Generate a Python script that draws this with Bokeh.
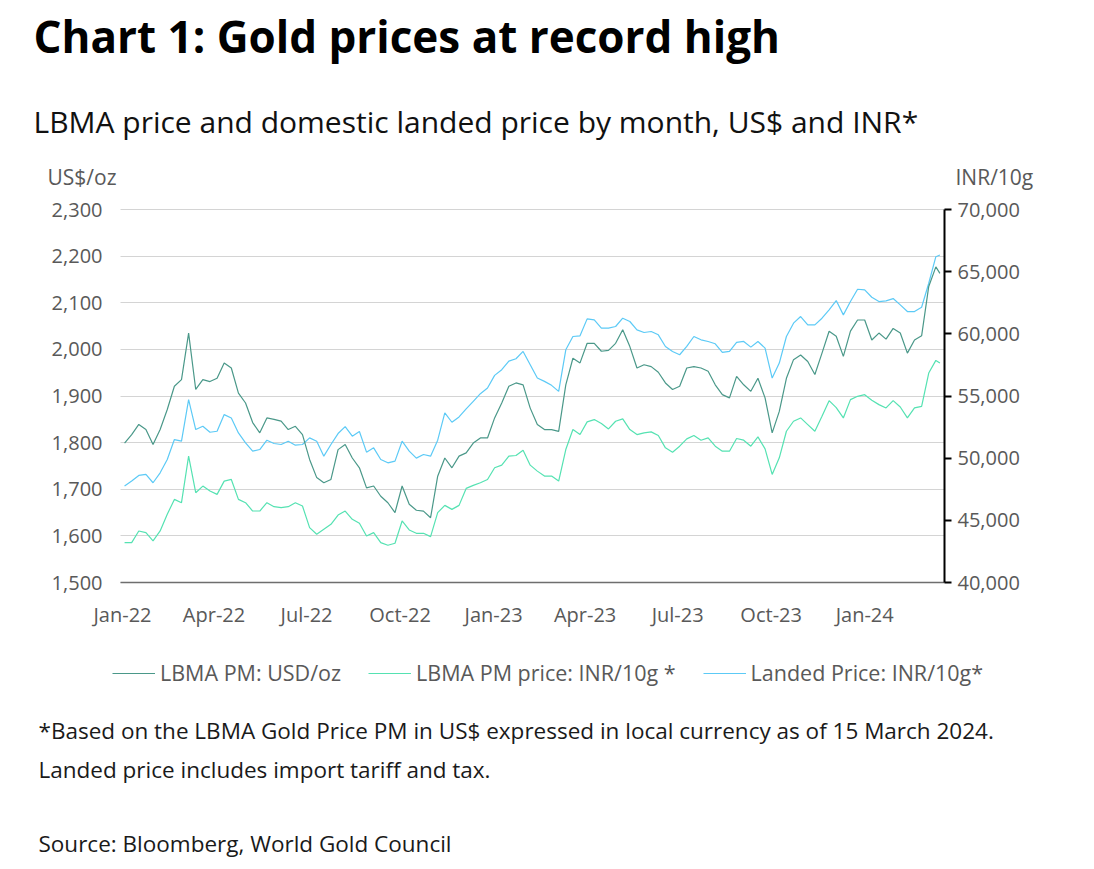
import pandas as pd
from bokeh.plotting import figure
from bokeh.models import (ColumnDataSource, LinearAxis, Range1d, FixedTicker,
                          NumeralTickFormatter, DatetimeTickFormatter, Label,
                          Legend, LegendItem)
from bokeh.embed import file_html
from bokeh.resources import INLINE

# ---------------- data (weekly readings from the chart) ----------------
week_start = "2022-01-03"
n_weeks = 115
last_date = "2024-03-15"
dates = list(pd.date_range(week_start, periods=n_weeks, freq="7D")) + [pd.Timestamp(last_date)]

usd = [1799, 1817, 1839, 1828, 1796, 1828, 1871, 1921, 1935, 2035,
       1914, 1935, 1931, 1938, 1971, 1960, 1906, 1885, 1843, 1821,
       1853, 1850, 1846, 1828, 1835, 1817, 1764, 1725, 1714, 1721,
       1785, 1796, 1767, 1746, 1703, 1707, 1685, 1671, 1650, 1707,
       1668, 1655, 1653, 1639, 1728, 1767, 1746, 1771, 1778, 1799,
       1810, 1810, 1853, 1885, 1921, 1928, 1924, 1874, 1839, 1828,
       1828, 1824, 1924, 1981, 1971, 2013, 2013, 1996, 1998, 2013,
       2042, 2006, 1960, 1967, 1963, 1951, 1928, 1914, 1921, 1960,
       1963, 1960, 1953, 1924, 1903, 1896, 1942, 1924, 1910, 1938,
       1896, 1821, 1867, 1938, 1978, 1988, 1974, 1946, 1992, 2039,
       2028, 1985, 2039, 2063, 2063, 2020, 2035, 2022, 2045, 2035,
       1992, 2020, 2029, 2135, 2177, 2163]

inr = [43209, 43209, 44145, 44011, 43343, 44145, 45482, 46685, 46418, 50161,
       47220, 47755, 47354, 47086, 48156, 48289, 46685, 46418, 45749, 45749,
       46418, 46097, 46017, 46097, 46418, 46150, 44412, 43877, 44278, 44680,
       45428, 45749, 45081, 44760, 43744, 44011, 43209, 42995, 43155, 44947,
       44225, 43958, 43958, 43690, 45615, 46204, 45883, 46204, 47567, 47808,
       48022, 48289, 49225, 49439, 50161, 50215, 50643, 49439, 48958, 48557,
       48557, 48156, 50696, 52300, 51899, 52916, 53103, 52782, 52354, 52969,
       53156, 52300, 51899, 52033, 52113, 51819, 50830, 50482, 50964, 51552,
       51819, 51445, 51632, 50964, 50562, 50562, 51579, 51445, 50964, 51712,
       50750, 48691, 50028, 52167, 52969, 53237, 52702, 52167, 53370, 54627,
       54065, 53237, 54707, 54974, 55108, 54654, 54306, 54039, 54627, 54119,
       53237, 54039, 54172, 56846, 57862, 57648]

landed = [47755, 48156, 48610, 48691, 48022, 48824, 49894, 51498, 51365, 54707,
          52300, 52568, 52086, 52167, 53504, 53237, 52033, 51231, 50562, 50696,
          51445, 51178, 51097, 51365, 51044, 51097, 51632, 51365, 50161, 51097,
          51980, 52541, 51766, 52140, 50482, 50830, 49894, 49626, 49760, 51365,
          50562, 50001, 50295, 50161, 51445, 53637, 52889, 53317, 53958, 54573,
          55188, 55643, 56659, 57114, 57809, 57996, 58584, 57515, 56445, 56178,
          55857, 55375, 58717, 59787, 59840, 61204, 61124, 60456, 60456, 60590,
          61258, 60991, 60322, 60108, 60189, 59921, 58985, 58584, 58317, 58985,
          59787, 59520, 59386, 59199, 58503, 58584, 59306, 59386, 58931, 59386,
          58851, 56445, 57648, 59787, 60857, 61392, 60724, 60724, 61258, 61927,
          62676, 61525, 62595, 63584, 63531, 62943, 62595, 62649, 62836, 62328,
          61793, 61793, 62141, 64066, 66205, 66339]

x_tick_dates = ["2022-01-01", "2022-04-01", "2022-07-01", "2022-10-01",
                "2023-01-01", "2023-04-01", "2023-07-01", "2023-10-01",
                "2024-01-01"]
usd_ticks = [1500, 1600, 1700, 1800, 1900, 2000, 2100, 2200, 2300]
inr_ticks = [40000, 45000, 50000, 55000, 60000, 65000, 70000]
x_start_date = "2021-12-30"
x_end_date = "2024-03-19 12:00"

series_names = ["LBMA PM: USD/oz", "LBMA PM price: INR/10g *", "Landed Price: INR/10g*"]
title_text = "Chart 1: Gold prices at record high"
subtitle_text = "LBMA price and domestic landed price by month, US$ and INR*"
left_unit = "US$/oz"
right_unit = "INR/10g"
notes = ["*Based on the LBMA Gold Price PM in US$ expressed in local currency as of 15 March 2024.",
         "Landed price includes import tariff and tax.",
         "Source: Bloomberg, World Gold Council"]

# ---------------- layout / styling ----------------
FONT = "Open Sans"
GRAY = "#595959"
C_USD = "#4a9889"
C_INR = "#55e2b2"
C_LAND = "#5ccaf6"
W, H = 1090, 865
PL, PR, PT, PB = 120, 944, 209, 582      # plotting area in canvas pixels

X0 = pd.Timestamp(x_start_date).value / 1e6
X1 = pd.Timestamp(x_end_date).value / 1e6
sx = (X1 - X0) / (PR - PL)
u_usd = (usd_ticks[-1] - usd_ticks[0]) / (PB - PT)
u_inr = (inr_ticks[-1] - inr_ticks[0]) / (PB - PT)

src = ColumnDataSource(dict(date=dates, usd=usd, inr=inr, landed=landed))

p = figure(width=W, height=H, x_axis_type="datetime",
           x_range=Range1d(X0 - PL * sx, X1 + (W - PR) * sx),
           y_range=Range1d(usd_ticks[0] - (H - PB) * u_usd, usd_ticks[-1] + PT * u_usd),
           output_backend="svg", toolbar_location=None,
           min_border=0, min_border_left=0, min_border_right=0,
           min_border_top=0, min_border_bottom=0)
p.outline_line_color = None
p.extra_y_ranges = {"inr": Range1d(inr_ticks[0] - (H - PB) * u_inr, inr_ticks[-1] + PT * u_inr)}

# grid lines (only across the plotting area)
grid = p.ygrid[0]
grid.ticker = FixedTicker(ticks=usd_ticks)
p.xgrid.grid_line_color = None
if "cross_bounds" in grid.properties():
    grid.cross_bounds = (X0, X1)
    grid.grid_line_color = "#d4d4d4"
    grid.grid_line_width = 1
else:
    grid.grid_line_color = None
    p.segment(x0=[X0] * len(usd_ticks), x1=[X1] * len(usd_ticks),
              y0=usd_ticks, y1=usd_ticks, line_color="#d4d4d4", line_width=1)

r_land = p.line("date", "landed", source=src, color=C_LAND, line_width=1.2, y_range_name="inr")
r_inr = p.line("date", "inr", source=src, color=C_INR, line_width=1.2, y_range_name="inr")
r_usd = p.line("date", "usd", source=src, color=C_USD, line_width=1.2)

# left axis (US$/oz)
la = p.yaxis[0]
la.fixed_location = X0
la.bounds = (usd_ticks[0], usd_ticks[-1])
la.ticker = FixedTicker(ticks=usd_ticks)
la.formatter = NumeralTickFormatter(format="0,0")
la.axis_line_color = None
la.major_tick_line_color = None
la.minor_tick_line_color = None
la.major_tick_out = 0
la.major_label_standoff = 18
la.major_label_text_font = FONT
la.major_label_text_font_size = "20px"
la.major_label_text_color = GRAY

# right axis (INR/10g)
ra = LinearAxis(y_range_name="inr", ticker=FixedTicker(ticks=inr_ticks),
                formatter=NumeralTickFormatter(format="0,0"),
                fixed_location=X1, bounds=(inr_ticks[0], inr_ticks[-1]))
ra.axis_line_color = "black"
ra.axis_line_width = 2
ra.major_tick_line_color = "black"
ra.major_tick_line_width = 2
ra.major_tick_out = 7
ra.major_tick_in = 0
ra.minor_tick_line_color = None
ra.major_label_standoff = 6
ra.major_label_text_font = FONT
ra.major_label_text_font_size = "20px"
ra.major_label_text_color = GRAY
p.add_layout(ra, "right")

# bottom axis (dates)
xa = p.xaxis[0]
xa.fixed_location = usd_ticks[0]
xa.bounds = (X0, X1)
xa.ticker = FixedTicker(ticks=[pd.Timestamp(d).value / 1e6 for d in x_tick_dates])
fmt = "%b-%y"
xa.formatter = DatetimeTickFormatter(days=fmt, months=fmt, years=fmt, hours=fmt,
                                     minutes=fmt, seconds=fmt, milliseconds=fmt,
                                     microseconds=fmt, minsec=fmt, hourmin=fmt)
xa.axis_line_color = "#6e6e6e"
xa.axis_line_width = 1.5
xa.major_tick_line_color = None
xa.minor_tick_line_color = None
xa.major_tick_out = 0
xa.major_label_standoff = 18
xa.major_label_text_font = FONT
xa.major_label_text_font_size = "20px"
xa.major_label_text_color = GRAY

# legend
legend = Legend(items=[LegendItem(label=series_names[0], renderers=[r_usd]),
                       LegendItem(label=series_names[1], renderers=[r_inr]),
                       LegendItem(label=series_names[2], renderers=[r_land])],
                orientation="horizontal", location=(112, H - 687),
                glyph_width=43, glyph_height=20, label_standoff=5, spacing=27,
                padding=0, margin=0, border_line_color=None, background_fill_alpha=0,
                label_text_font=FONT, label_text_font_size="21.5px", label_text_color=GRAY)
p.add_layout(legend)


def add_label(txt, x, y_top, size, color="black", style="normal"):
    # x, y_top: canvas pixels from the top-left corner (y is the text's middle)
    p.add_layout(Label(x=x, y=H - y_top, x_units="screen", y_units="screen", text=txt,
                       text_font=FONT, text_font_size=size, text_color=color,
                       text_font_style=style, text_baseline="middle",
                       text_align="left"))


add_label(title_text, 33, 35, "44px", "black", "bold")
add_label(subtitle_text, 33, 121, "30px", "#111111")
add_label(left_unit, 47, 176, "21px", GRAY)
add_label(right_unit, 955, 176, "21px", GRAY)
add_label(notes[0], 38, 730, "22.5px", "#1a1a1a")
add_label(notes[1], 38, 769, "22.5px", "#1a1a1a")
add_label(notes[2], 38, 843, "22.5px", "#1a1a1a")

open("out.html", "w").write(file_html(p, INLINE))
